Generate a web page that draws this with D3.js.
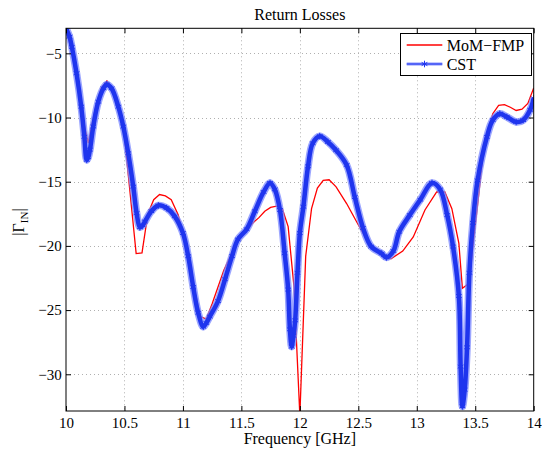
<!DOCTYPE html>
<html>
<head>
<meta charset="utf-8">
<title>Return Losses</title>
<style>
body{margin:0;background:#fff;}
svg{display:block;}
text{font-family:"Liberation Serif","DejaVu Serif",serif;fill:#000;}
.axis text{font-size:15px;}
.axis line{stroke:#000;}
.axis path{display:none;}
.grid line{stroke:#b0b0b0;stroke-dasharray:1,3;}
</style>
<script src="https://d3js.org/d3.v7.min.js"></script>
</head>
<body>
<svg id="chart" width="542" height="455"></svg>
<script>
// MoM-FMP (red)
var momFreq = [10.00,10.05,10.10,10.15,10.19,10.25,10.30,10.35,10.40,10.45,10.50,10.60,10.65,10.70,10.75,10.80,10.85,10.90,10.96,
  11.00,11.05,11.10,11.15,11.20,11.25,11.30,11.35,11.40,11.45,11.50,11.55,11.60,11.65,11.70,11.75,11.80,11.85,11.90,11.95,
  12.00,12.05,12.10,12.15,12.20,12.25,12.31,12.40,12.49,12.57,12.68,12.78,12.88,12.97,13.07,13.17,13.24,13.30,13.36,13.39,
  13.45,13.48,13.52,13.56,13.60,13.65,13.70,13.75,13.80,13.85,13.90,13.95,14.00];
var momVal = [-3.05,-4.9,-7.6,-10.3,-12.0,-9.3,-7.7,-7.15,-7.9,-9.4,-11.5,-20.6,-20.55,-17.5,-16.4,-16.0,-16.1,-16.4,-17.6,
  -19.0,-20.9,-23.4,-25.5,-25.7,-24.5,-23.2,-21.9,-20.9,-19.9,-19.2,-18.7,-18.2,-17.8,-17.3,-17.0,-16.9,-17.1,-18.5,-23.2,
  -33.2,-20.8,-17.1,-15.5,-14.9,-14.85,-15.4,-16.7,-18.2,-19.5,-20.6,-21.0,-20.4,-19.3,-17.2,-15.8,-15.8,-17.1,-19.8,-23.3,
  -22.9,-20.0,-16.8,-13.5,-11.3,-9.7,-9.05,-9.0,-9.2,-9.45,-9.35,-8.9,-7.7];

// CST (blue)
var cstFreq = [10.00,10.03,10.05,10.09,10.13,10.157,10.177,10.19,10.205,10.233,10.276,10.32,10.348,10.39,10.447,10.49,10.532,10.575,
  10.604,10.632,10.655,10.675,10.73,10.79,10.86,10.93,11.00,11.045,11.088,11.13,11.174,11.20,11.23,11.30,11.36,11.42,11.47,
  11.545,11.615,11.69,11.745,11.786,11.83,11.87,11.90,11.915,11.93,11.945,11.96,11.98,12.00,12.03,12.07,12.11,12.17,12.24,
  12.31,12.40,12.47,12.54,12.61,12.70,12.74,12.80,12.85,12.94,13.03,13.13,13.20,13.26,13.31,13.36,13.375,13.39,13.41,13.43,
  13.45,13.48,13.52,13.60,13.65,13.71,13.77,13.85,13.91,13.97,14.00];
var cstVal = [-3.05,-3.7,-4.5,-6.55,-9.15,-11.5,-13.3,-13.1,-12.5,-10.7,-8.77,-7.73,-7.42,-7.73,-9.15,-10.7,-12.78,-15.38,
  -17.45,-18.55,-18.4,-18.1,-17.3,-16.85,-17.05,-17.7,-19.0,-20.8,-23.2,-25.2,-26.3,-26.0,-25.5,-24.3,-22.6,-20.8,-19.5,
  -18.7,-17.3,-15.8,-15.1,-15.6,-17.2,-20.57,-23.4,-26.5,-27.85,-27.0,-25.8,-22.1,-19.0,-16.95,-13.8,-12.0,-11.45,-11.9,
  -12.55,-13.7,-16.2,-18.6,-20.05,-20.6,-20.9,-20.4,-18.9,-17.6,-16.4,-15.1,-15.6,-17.6,-20.05,-23.9,-29.4,-32.5,-31.2,-27.9,
  -22.1,-18.2,-14.9,-11.5,-10.2,-9.7,-9.95,-10.35,-10.2,-9.4,-8.5];

var xTicks = [10,10.5,11,11.5,12,12.5,13,13.5,14];
var xTickLabels = ["10","10.5","11","11.5","12","12.5","13","13.5","14"];
var yTicks = [-30,-25,-20,-15,-10,-5];
var yTickLabels = ["\u221230","\u221225","\u221220","\u221215","\u221210","\u22125"];
var seriesNames = ["MoM\u2212FMP","CST"];

var pLeft = 66, pRight = 533.7, pTop = 28.3, pBottom = 411;

var x = d3.scaleLinear().domain([10,14]).range([pLeft,pRight]);
var y = d3.scaleLinear().domain([-32.86,-3.05]).range([pBottom,pTop]);

var svg = d3.select("#chart");

svg.append("defs").append("clipPath").attr("id","plotClip")
  .append("rect").attr("x",pLeft).attr("y",pTop).attr("width",pRight-pLeft).attr("height",pBottom-pTop);

//グリッド
var grid = svg.append("g").attr("class","grid");
grid.selectAll(".gx").data(xTicks.slice(1,-1)).enter().append("line")
  .attr("x1",function(d){return Math.round(x(d))+0.5;}).attr("x2",function(d){return Math.round(x(d))+0.5;})
  .attr("y1",pTop).attr("y2",pBottom);
grid.selectAll(".gy").data(yTicks).enter().append("line")
  .attr("y1",function(d){return Math.round(y(d))+0.5;}).attr("y2",function(d){return Math.round(y(d))+0.5;})
  .attr("x1",pLeft).attr("x2",pRight);

//曲線
var plot = svg.append("g").attr("clip-path","url(#plotClip)");

var redLine = d3.line()
  .x(function(d,i){return x(momFreq[i]);})
  .y(function(d){return y(d);});
plot.append("path").datum(momVal)
  .attr("d",redLine).attr("fill","none").attr("stroke","#ff0000").attr("stroke-width",1.3);

var blueLine = d3.line()
  .x(function(d,i){return x(cstFreq[i]);})
  .y(function(d){return y(d);})
  .curve(d3.curveCatmullRom.alpha(0.5));
plot.append("path").datum(cstVal)
  .attr("d",blueLine).attr("fill","none").attr("stroke","#7b88ff").attr("stroke-width",7.5)
  .attr("stroke-opacity",0.75).attr("stroke-linejoin","round");
plot.append("path").datum(cstVal)
  .attr("d",blueLine).attr("fill","none").attr("stroke","#1f35ee").attr("stroke-width",4.5)
  .attr("stroke-linejoin","round");

var star = d3.symbol().type(d3.symbolAsterisk).size(30);
plot.selectAll(".mk").data(cstVal).enter().append("path")
  .attr("d",star)
  .attr("transform",function(d,i){return "translate("+x(cstFreq[i])+","+y(d)+")";})
  .attr("fill","none").attr("stroke","#1f35ee").attr("stroke-width",1);

//軸
svg.append("g").attr("class","axis")
  .attr("transform","translate(0,"+pBottom+")")
  .call(d3.axisBottom(x).tickValues(xTicks).tickSize(-5).tickPadding(6.5)
    .tickFormat(function(d,i){return xTickLabels[i];}));
svg.append("g").attr("class","axis")
  .attr("transform","translate(0,"+pTop+")")
  .call(d3.axisTop(x).tickValues(xTicks).tickSize(-5).tickFormat(""));
svg.append("g").attr("class","axis")
  .attr("transform","translate("+pLeft+",0)")
  .call(d3.axisLeft(y).tickValues(yTicks).tickSize(-5).tickPadding(4.3)
    .tickFormat(function(d,i){return yTickLabels[i];}));
svg.append("g").attr("class","axis")
  .attr("transform","translate("+pRight+",0)")
  .call(d3.axisRight(y).tickValues(yTicks).tickSize(-5).tickFormat(""));

svg.append("rect").attr("x",pLeft).attr("y",pTop).attr("width",pRight-pLeft).attr("height",pBottom-pTop)
  .attr("fill","none").attr("stroke","#000").attr("stroke-width",1);

//タイトルとラベル
svg.append("text").attr("x",(pLeft+pRight)/2).attr("y",20).attr("text-anchor","middle")
  .style("font-size","16px").text("Return Losses");
svg.append("text").attr("x",(pLeft+pRight)/2).attr("y",444).attr("text-anchor","middle")
  .style("font-size","16px").text("Frequency [GHz]");

var yl = svg.append("text").attr("transform","translate(24,222) rotate(-90)")
  .attr("text-anchor","middle").style("font-size","16px");
yl.append("tspan").text("|\u0393");
yl.append("tspan").attr("dy",4).style("font-size","11px").text("IN");
yl.append("tspan").attr("dy",-4).text("|");

//凡例
var lg = svg.append("g");
lg.append("rect").attr("x",400.5).attr("y",33.5).attr("width",131).attr("height",42)
  .attr("fill","#fff").attr("stroke","#000").attr("stroke-width",1);
lg.append("line").attr("x1",406.7).attr("x2",442.3).attr("y1",45).attr("y2",45)
  .attr("stroke","#ff0000").attr("stroke-width",1.3);
lg.append("line").attr("x1",406.7).attr("x2",442.3).attr("y1",64).attr("y2",64)
  .attr("stroke","#8a96ff").attr("stroke-width",3);
lg.append("line").attr("x1",406.7).attr("x2",442.3).attr("y1",64).attr("y2",64)
  .attr("stroke","#1f35ee").attr("stroke-width",1);
lg.append("path").attr("d",star).attr("transform","translate(424.5,64)")
  .attr("fill","none").attr("stroke","#1f35ee").attr("stroke-width",1);
lg.selectAll(".lt").data(seriesNames).enter().append("text")
  .attr("x",446.7).attr("y",function(d,i){return 50.5+i*19;})
  .style("font-size","16px").text(function(d){return d;});
</script>
</body>
</html>
